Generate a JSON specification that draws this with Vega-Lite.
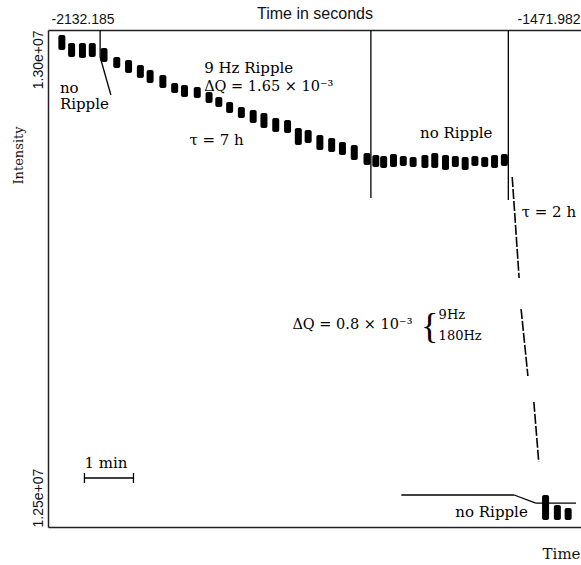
{
  "$schema": "https://vega.github.io/schema/vega-lite/v6.json",
  "width": 533,
  "height": 497,
  "autosize": "none",
  "padding": {"left": 48, "top": 30, "right": 0, "bottom": 38},
  "background": "white",
  "config": {
    "view": {"stroke": null},
    "axis": {"domainColor": "#222", "domainWidth": 1.5, "grid": false, "ticks": false, "labelColor": "#111", "titleColor": "#111", "titleFontWeight": "normal"}
  },
  "datasets": {
    "blobs": [
      {"t": -2121.0, "lo": 12979900, "hi": 12995000},
      {"t": -2108.7, "lo": 12972800, "hi": 12986900},
      {"t": -2095.0, "lo": 12971800, "hi": 12986900},
      {"t": -2082.6, "lo": 12972800, "hi": 12986900},
      {"t": -2067.8, "lo": 12967800, "hi": 12981900},
      {"t": -2051.7, "lo": 12961800, "hi": 12972800},
      {"t": -2036.8, "lo": 12956700, "hi": 12969800},
      {"t": -2021.9, "lo": 12951700, "hi": 12964800},
      {"t": -2009.6, "lo": 12946700, "hi": 12959800},
      {"t": -1993.5, "lo": 12941700, "hi": 12954700},
      {"t": -1978.6, "lo": 12936600, "hi": 12946700},
      {"t": -1966.2, "lo": 12932600, "hi": 12944700},
      {"t": -1950.1, "lo": 12931600, "hi": 12942700},
      {"t": -1935.2, "lo": 12926600, "hi": 12937600},
      {"t": -1922.9, "lo": 12922500, "hi": 12932600},
      {"t": -1909.2, "lo": 12916500, "hi": 12927600},
      {"t": -1894.4, "lo": 12911500, "hi": 12922500},
      {"t": -1879.5, "lo": 12906400, "hi": 12919500},
      {"t": -1865.9, "lo": 12901400, "hi": 12916500},
      {"t": -1851.0, "lo": 12897400, "hi": 12911500},
      {"t": -1836.1, "lo": 12896400, "hi": 12909500},
      {"t": -1822.5, "lo": 12884300, "hi": 12901400},
      {"t": -1810.1, "lo": 12886300, "hi": 12899400},
      {"t": -1795.3, "lo": 12879300, "hi": 12894400},
      {"t": -1780.4, "lo": 12877300, "hi": 12891300},
      {"t": -1766.8, "lo": 12874200, "hi": 12887300},
      {"t": -1751.9, "lo": 12869200, "hi": 12884300},
      {"t": -1735.8, "lo": 12864200, "hi": 12876300},
      {"t": -1724.7, "lo": 12862200, "hi": 12874200},
      {"t": -1714.8, "lo": 12861200, "hi": 12873200},
      {"t": -1702.4, "lo": 12862200, "hi": 12875200},
      {"t": -1690.0, "lo": 12863200, "hi": 12873200},
      {"t": -1677.6, "lo": 12862200, "hi": 12872200},
      {"t": -1662.7, "lo": 12861200, "hi": 12874200},
      {"t": -1650.3, "lo": 12861200, "hi": 12876300},
      {"t": -1636.7, "lo": 12859200, "hi": 12874200},
      {"t": -1624.3, "lo": 12862200, "hi": 12873200},
      {"t": -1611.9, "lo": 12859200, "hi": 12872200},
      {"t": -1599.6, "lo": 12863200, "hi": 12873200},
      {"t": -1587.2, "lo": 12862200, "hi": 12872200},
      {"t": -1574.8, "lo": 12861200, "hi": 12874200},
      {"t": -1562.4, "lo": 12863200, "hi": 12875200},
      {"t": -1510.4, "lo": 12507000, "hi": 12532200},
      {"t": -1495.5, "lo": 12507000, "hi": 12522100},
      {"t": -1481.9, "lo": 12507000, "hi": 12519100}
    ],
    "segments": [
      {"t1": -2072.7, "i1": 13000000, "t2": -2072.7, "i2": 12972800},
      {"t1": -2072.7, "i1": 12972800, "t2": -2059.1, "i2": 12934600},
      {"t1": -1730.9, "i1": 13000000, "t2": -1730.9, "i2": 12831000},
      {"t1": -1557.4, "i1": 13000000, "t2": -1557.4, "i2": 12829000},
      {"t1": -1692.5, "i1": 12532200, "t2": -1550.0, "i2": 12532200},
      {"t1": -1550.0, "i1": 12532200, "t2": -1522.8, "i2": 12524100},
      {"t1": -1522.8, "i1": 12524100, "t2": -1471.982, "i2": 12524100},
      {"t1": -2092.5, "i1": 12549300, "t2": -2030.6, "i2": 12549300},
      {"t1": -2092.5, "i1": 12554300, "t2": -2092.5, "i2": 12544300},
      {"t1": -2030.6, "i1": 12554300, "t2": -2030.6, "i2": 12544300}
    ],
    "drop": [
      {"t1": -1552.5, "i1": 12852100, "t2": -1543.8, "i2": 12750500},
      {"t1": -1541.3, "i1": 12719300, "t2": -1532.7, "i2": 12651900},
      {"t1": -1525.2, "i1": 12625800, "t2": -1519.0, "i2": 12565400}
    ],
    "notes": [
      {"t": -2123.5, "i": 12941700, "label": "no", "w": "normal", "s": 15},
      {"t": -2123.5, "i": 12925600, "label": "Ripple", "w": "normal", "s": 15},
      {"t": -1941.4, "i": 12961800, "label": "9 Hz Ripple", "w": "normal", "s": 15},
      {"t": -1941.4, "i": 12942700, "label": "ΔQ = 1.65 × 10⁻³", "w": "normal", "s": 14.5},
      {"t": -1960.0, "i": 12889300, "label": "τ = 7 h", "w": "normal", "s": 15},
      {"t": -1668.9, "i": 12896400, "label": "no Ripple", "w": "normal", "s": 15},
      {"t": -1540.5, "i": 12816900, "label": "τ = 2 h", "w": "normal", "s": 15},
      {"t": -1830.0, "i": 12703200, "label": "ΔQ = 0.8 × 10⁻³", "w": "bold", "s": 14.5},
      {"t": -1645.4, "i": 12713300, "label": "9Hz", "w": "bold", "s": 13},
      {"t": -1645.4, "i": 12692100, "label": "180Hz", "w": "bold", "s": 13},
      {"t": -2092.5, "i": 12564400, "label": "1 min", "w": "normal", "s": 15},
      {"t": -1624.3, "i": 12515100, "label": "no Ripple", "w": "normal", "s": 15}
    ],
    "brace": [
      {"t": -1667.5, "i": 12701200, "label": "{"}
    ]
  },
  "encoding": {
    "x": {"type": "quantitative", "scale": {"domain": [-2132.185, -1471.982], "nice": false, "zero": false}},
    "y": {"type": "quantitative", "scale": {"domain": [12500000, 13000000], "nice": false, "zero": false}}
  },
  "layer": [
    {
      "data": {"name": "blobs"},
      "mark": {"type": "bar", "size": 7, "color": "black", "cornerRadius": 2},
      "encoding": {
        "x": {"field": "t", "type": "quantitative",
          "axis": {"orient": "top", "values": [-2132.185, -1471.982],
            "labelAlign": "left",
            "labelOffset": {"condition": {"test": "datum.value < -2000", "value": -2}, "value": -59},
            "labelExpr": "'-' + format(-datum.value, '.3f')", "labelFont": "Liberation Sans", "labelFontSize": 14, "labelPadding": 4,
            "title": "Time in seconds", "titleFont": "Liberation Sans", "titleFontSize": 16, "titleAnchor": "middle", "titleY": -12, "titleBaseline": "alphabetic"}},
        "y": {"field": "lo", "type": "quantitative",
          "axis": {"orient": "left", "values": [12500000, 13000000], "labelAngle": -90,
            "labelAlign": {"condition": {"test": "datum.value > 12700000", "value": "right"}, "value": "left"},
            "labelBaseline": "bottom", "labelPadding": 3,
            "labelExpr": "format(datum.value / 10000000, '.2f') + 'e+07'", "labelFont": "Liberation Sans", "labelFontSize": 14,
            "title": "Intensity", "titleFont": "DejaVu Serif", "titleFontSize": 13, "titleAngle": -90, "titleX": -30, "titleY": 125, "titleAlign": "center", "titleBaseline": "middle"}},
        "y2": {"field": "hi"}
      }
    },
    {
      "data": {"name": "segments"},
      "mark": {"type": "rule", "color": "black", "strokeWidth": 1.3},
      "encoding": {
        "x": {"field": "t1", "type": "quantitative",
          "axis": {"orient": "bottom", "values": [], "labels": false, "title": "Time", "titleFont": "DejaVu Serif", "titleFontSize": 15, "titleAnchor": "end", "titleAlign": "right", "titleX": 532, "titleY": 31, "titleBaseline": "alphabetic"}},
        "x2": {"field": "t2"},
        "y": {"field": "i1", "type": "quantitative"},
        "y2": {"field": "i2"}
      }
    },
    {
      "data": {"name": "drop"},
      "mark": {"type": "rule", "color": "black", "strokeWidth": 1.6, "strokeDash": [10, 2]},
      "encoding": {
        "x": {"field": "t1", "type": "quantitative", "axis": null},
        "x2": {"field": "t2"},
        "y": {"field": "i1", "type": "quantitative"},
        "y2": {"field": "i2"}
      }
    },
    {
      "data": {"name": "notes"},
      "mark": {"type": "text", "align": "left", "baseline": "middle", "font": "DejaVu Serif", "color": "black"},
      "encoding": {
        "x": {"field": "t", "type": "quantitative", "axis": null},
        "y": {"field": "i", "type": "quantitative"},
        "text": {"field": "label"},
        "fontWeight": {"field": "w", "type": "nominal", "scale": null},
        "size": {"field": "s", "type": "quantitative", "scale": null}
      }
    },
    {
      "data": {"name": "brace"},
      "mark": {"type": "text", "align": "left", "baseline": "middle", "font": "Liberation Serif", "fontSize": 36, "color": "black"},
      "encoding": {
        "x": {"field": "t", "type": "quantitative", "axis": null},
        "y": {"field": "i", "type": "quantitative"},
        "text": {"field": "label"}
      }
    }
  ],
  "resolve": {"axis": {"x": "independent"}}
}
